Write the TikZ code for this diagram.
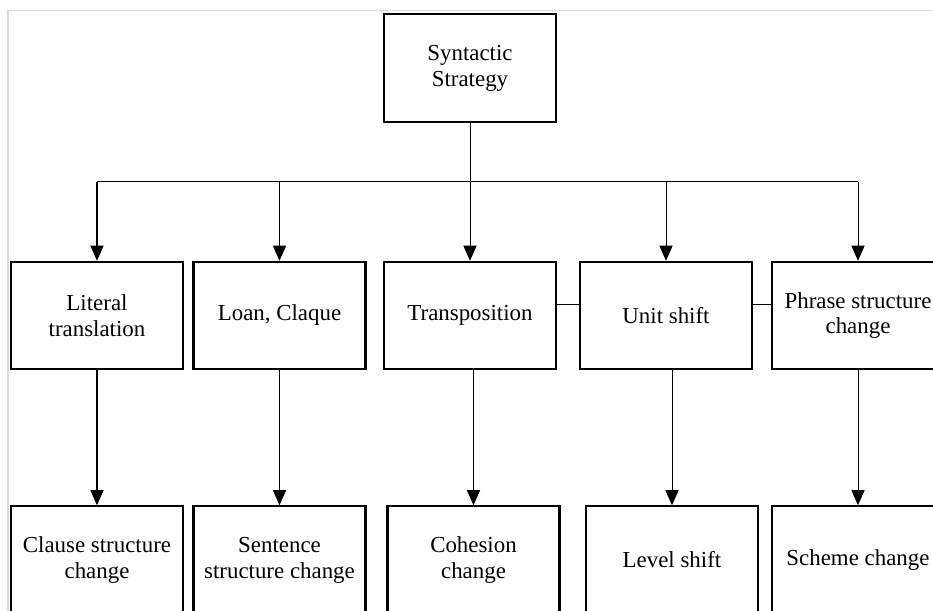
\documentclass[tikz,border=0pt]{standalone}
\usepackage{fontspec}
\setmainfont{Liberation Serif}
\usetikzlibrary{arrows.meta}

\begin{document}
\begin{tikzpicture}[x=1.75cm,y=1.75cm,
	box/.style={shape=rectangle,draw=black,line width=1pt,align=center,
		minimum width=3.01cm,minimum height=1.88cm,inner sep=2pt,
		font=\fontsize{11.4}{12.9}\selectfont},
	arr/.style={-{Triangle[length=7.5pt,width=6.5pt]},line width=0.5pt}]
	\useasboundingbox (0,0) rectangle (9.33,6.11);
	\draw[black!14,line width=0.5pt] (0.08,0) -- (0.08,6.00) -- (9.33,6.00);

	\node[box] (top) at (4.70, 5.43)    {Syntactic\\Strategy};

	\node[box] (lit)   at (0.97, 2.955) {Literal\\translation};
	\node[box] (loan)  at (2.795, 2.955) {Loan, Claque};
	\node[box] (trans) at (4.70, 2.955) {Transposition};
	\node[box] (unit)  at (6.66, 2.955) {Unit shift};
	\node[box] (phr)   at (8.58, 2.955) {Phrase structure\\change};

	\node[box] (clause) at (0.97, 0.51)  {Clause structure\\change};
	\node[box] (sent)   at (2.795, 0.51) {Sentence\\structure change};
	\node[box] (coh)    at (4.735, 0.51) {Cohesion\\change};
	\node[box] (level)  at (6.72, 0.51)  {Level shift};
	\node[box] (scheme) at (8.58, 0.51)  {Scheme change};

	\coordinate (bus)  at (4.70, 4.29);
	\coordinate (link) at (4.70, 3.06);

	\draw[line width=0.5pt] (lit.north |- bus) -- (phr.north |- bus);
	\draw[arr] (top) -- (trans);
	\draw[arr] (lit.north |- bus) -- (lit);
	\draw[arr] (loan.north |- bus) -- (loan);
	\draw[arr] (unit.north |- bus) -- (unit);
	\draw[arr] (phr.north |- bus) -- (phr);

	\draw[line width=0.5pt] (trans.east |- link) -- (unit.west |- link);
	\draw[line width=0.5pt] (unit.east |- link) -- (phr.west |- link);

	\draw[arr] (clause.north |- lit.south) -- (clause);
	\draw[arr] (sent.north |- loan.south) -- (sent);
	\draw[arr] (coh.north |- trans.south) -- (coh);
	\draw[arr] (level.north |- unit.south) -- (level);
	\draw[arr] (scheme.north |- phr.south) -- (scheme);
\end{tikzpicture}
\end{document}
